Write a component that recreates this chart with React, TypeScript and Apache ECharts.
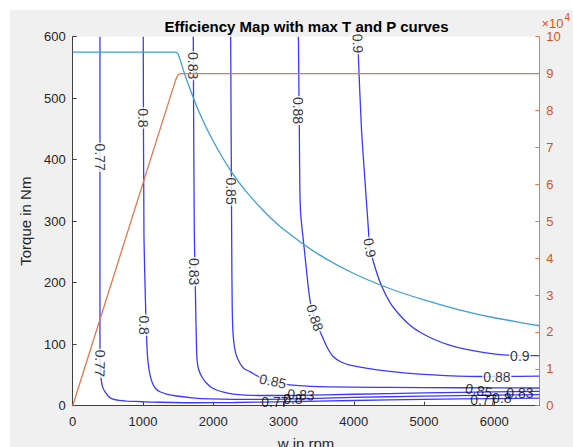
import React, { useEffect, useRef } from 'react';
import * as echarts from 'echarts';

const chartTitle = 'Efficiency Map with max T and P curves';
const xName = 'w in rpm';
const yLeftName = 'Torque in Nm';
const yRightName = 'Power in W';

// max torque curve (rpm, Nm)
const speedMaxT = [0, 1465, 1500, 1600, 1800, 2000, 2250, 2500, 2750, 3000, 3500, 4000, 4500, 5000, 5500, 6000, 6640];
const torqueMax = [575, 575, 572, 537, 477, 430, 382, 344, 313, 287, 246, 215, 191, 172, 156, 143, 130];

// max power curve (rpm, W)
const speedMaxP = [0, 1465, 1500, 1530, 6640];
const powerMax = [0, 88300, 89700, 90000, 90000];

// efficiency contours [rpm, Nm]
const c077 = [[388, 600], [388, 120], [390, 70], [398, 50], [412, 38], [430, 29], [459, 22.8], [510, 15], [573, 10.6], [660, 8.6], [768, 7.6], [1000, 6.4], [1242, 5.6], [1711, 4.8], [2300, 5.2], [2900, 6.2], [3500, 7.5], [4500, 9.4], [5500, 11], [6640, 12.3]];
const c080 = [[1004, 600], [1014, 280], [1040, 150], [1052, 110], [1062, 85], [1075, 68], [1100, 50], [1134, 37], [1180, 28], [1242, 22.7], [1350, 18.5], [1479, 15.8], [1700, 12.8], [1953, 11], [2300, 10.2], [2665, 10.2], [3200, 11.2], [4000, 13.4], [5000, 15.6], [6000, 17.3], [6640, 18]];
const c083 = [[1716, 600], [1730, 285], [1745, 194], [1764, 85], [1780, 65], [1812, 52.7], [1860, 43], [1906, 36.4], [1970, 30], [2048, 25.5], [2160, 21.5], [2285, 18.8], [2450, 17.2], [2665, 16.6], [3200, 16.8], [4000, 18.6], [5000, 20.8], [6000, 22.6], [6640, 23.4]];
const c085 = [[2248, 600], [2262, 280], [2270, 160], [2285, 112], [2320, 85], [2380, 69], [2440, 60], [2522, 55.3], [2650, 47], [2850, 39], [3091, 33.7], [3518, 31], [4500, 29.8], [5500, 29.2], [6640, 28.8]];
const c088 = [[3212, 600], [3225, 450], [3240, 320], [3300, 250], [3376, 172], [3450, 140], [3542, 115], [3620, 95], [3707, 80], [3820, 71], [3945, 66], [4418, 57], [5130, 50], [5794, 47.5], [6640, 48]];
const c090 = [[4060, 600], [4063, 574], [4110, 449], [4158, 368], [4205, 292], [4229, 257], [4300, 226], [4395, 195], [4514, 168], [4656, 147], [4800, 131], [4950, 119], [5130, 108.5], [5350, 99], [5605, 91.5], [6079, 83], [6640, 81.4]];

const contourLevels = ['0.77', '0.8', '0.83', '0.85', '0.88', '0.9'];
const contourLines = [c077, c080, c083, c085, c088, c090];

// contour labels: text, rpm, Nm, rotation, white gap
const contourLabels: [string, number, number, number, boolean][] = [
  ['0.77', 388, 404, -90, true],
  ['0.77', 390, 69, -92, true],
  ['0.8', 1004, 468, -90, true],
  ['0.8', 1014, 131, -90, true],
  ['0.83', 1718, 553, -90, true],
  ['0.83', 1733, 218, -90, true],
  ['0.85', 2252, 349, -90, true],
  ['0.85', 2849, 40, -12, true],
  ['0.88', 3212, 480, -90, true],
  ['0.88', 3447, 143, -72, true],
  ['0.88', 6036, 47, 0, true],
  ['0.9', 4058, 589, -88, true],
  ['0.9', 4229, 257, -80, true],
  ['0.9', 6363, 81, 0, true],
  ['0.83', 3248, 18, -4, false],
  ['0.8', 3134, 11, 0, false],
  ['0.77', 2878, 6, 0, false],
  ['0.85', 5780, 25, -10, false],
  ['0.83', 6363, 21, 0, false],
  ['0.8', 6107, 13, 0, false],
  ['0.77', 5850, 9.5, 0, false],
];

const xMax = 6640;
const font = '"Liberation Sans", Arial, Helvetica, sans-serif';
const txt = '#262626';
const orange = '#D95319';

export default function App() {
  const ref = useRef<HTMLDivElement>(null);
  useEffect(() => {
    if (!ref.current) return;
    const chart = echarts.init(ref.current, undefined, { renderer: 'svg' });
    const contourSeries = contourLines.map((d, i) => ({
      type: 'line',
      name: contourLevels[i],
      data: d,
      xAxisIndex: 0,
      yAxisIndex: 0,
      showSymbol: false,
      smooth: 0.25,
      lineStyle: { color: '#3a3aff', width: 1.3 },
      z: 2,
      silent: true,
    }));
    chart.setOption({
      animation: false,
      backgroundColor: '#f0f0f0',
      textStyle: { fontFamily: font },
      grid: {
        left: 62.7, right: 33.7, top: 26.7, bottom: 41.3,
        show: true, backgroundColor: '#ffffff', borderWidth: 0,
        containLabel: false, outerBoundsMode: 'none',
      },
      graphic: [
        {
          type: 'text', x: 296.5, y: 16,
          style: { text: chartTitle, fill: '#000', font: 'bold 15px ' + font, textAlign: 'center', textVerticalAlign: 'middle' },
        },
        {
          type: 'text', x: 531.5, y: 13.5,
          style: { text: '×10', fill: orange, font: '13px ' + font, textAlign: 'left', textVerticalAlign: 'middle' },
        },
        {
          type: 'text', x: 554.5, y: 7.5,
          style: { text: '4', fill: orange, font: '10px ' + font, textAlign: 'left', textVerticalAlign: 'middle' },
        },
      ],
      xAxis: {
        type: 'value', min: 0, max: xMax, interval: 1000,
        name: xName, nameLocation: 'middle', nameGap: 30,
        nameTextStyle: { color: txt, fontSize: 15, fontFamily: font },
        axisLine: { show: true, lineStyle: { color: '#404040', width: 1 } },
        axisTick: { show: true, inside: true, length: 4, lineStyle: { color: '#404040' } },
        axisLabel: { color: txt, fontSize: 13, margin: 9, fontFamily: font, showMaxLabel: false, formatter: (v: number) => String(v) },
        splitLine: { show: false },
      },
      yAxis: [
        {
          type: 'value', min: 0, max: 600, interval: 100, position: 'left',
          name: yLeftName, nameLocation: 'middle', nameGap: 38,
          nameTextStyle: { color: txt, fontSize: 15, fontFamily: font },
          axisLine: { show: true, lineStyle: { color: '#404040', width: 1 } },
          axisTick: { show: true, inside: true, length: 4, lineStyle: { color: '#404040' } },
          axisLabel: { color: txt, fontSize: 13, margin: 7, fontFamily: font },
          splitLine: { show: false },
        },
        {
          type: 'value', min: 0, max: 100000, interval: 10000, position: 'right',
          name: yRightName, nameLocation: 'middle', nameGap: 30, nameRotate: 90,
          nameTextStyle: { color: orange, fontSize: 15, fontFamily: font },
          axisLine: { show: true, lineStyle: { color: '#e07a4f', width: 1 } },
          axisTick: { show: true, inside: true, length: 4, lineStyle: { color: '#e07a4f' } },
          axisLabel: { color: orange, fontSize: 13, margin: 7, fontFamily: font, formatter: (v: number) => String(v / 10000) },
          splitLine: { show: false },
        },
      ],
      series: [
        ...contourSeries,
        {
          type: 'scatter',
          data: contourLabels.map((l) => ({
            value: [l[1], l[2]],
            name: l[0],
            label: {
              rotate: l[3],
              backgroundColor: l[4] ? '#ffffff' : 'transparent',
            },
          })),
          symbol: 'circle',
          symbolSize: 0.1,
          itemStyle: { color: 'rgba(0,0,0,0)' },
          label: {
            show: true, position: 'inside', formatter: '{b}',
            color: '#000', fontSize: 14, fontFamily: font, padding: [0, 1],
            align: 'center', verticalAlign: 'middle',
          },
          z: 3,
          silent: true,
        },
        {
          type: 'line',
          data: speedMaxT.map((s, i) => [s, torqueMax[i]]),
          yAxisIndex: 0,
          showSymbol: false,
          smooth: 0.2,
          lineStyle: { color: '#3f9fd8', width: 1.3 },
          z: 4,
          silent: true,
        },
        {
          type: 'line',
          data: speedMaxP.map((s, i) => [s, powerMax[i]]),
          yAxisIndex: 1,
          showSymbol: false,
          lineStyle: { color: '#e6764a', width: 1.3 },
          z: 4,
          silent: true,
        },
      ],
    });
    return () => chart.dispose();
  }, []);
  return (
    <div
      ref={ref}
      style={{ position: 'fixed', left: 10, top: 10, width: 563, height: 437 }}
    />
  );
}
